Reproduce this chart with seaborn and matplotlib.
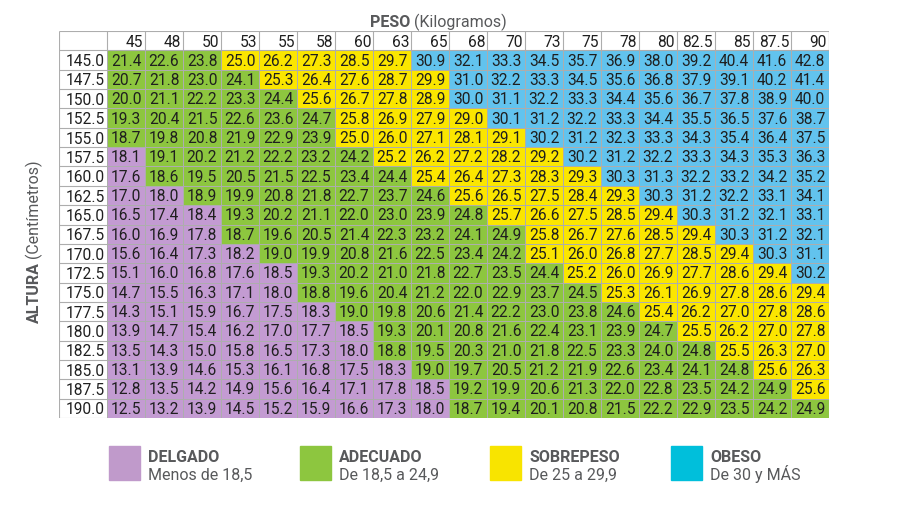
import numpy as np
import pandas as pd
import matplotlib
matplotlib.use("Agg")
import matplotlib.pyplot as plt
import seaborn as sns
from matplotlib.colors import ListedColormap, BoundaryNorm
from matplotlib.patches import Rectangle

pesos = ["45", "48", "50", "53", "55", "58", "60", "63", "65", "68",
         "70", "73", "75", "78", "80", "82.5", "85", "87.5", "90"]
alturas = ["145.0", "147.5", "150.0", "152.5", "155.0", "157.5", "160.0",
           "162.5", "165.0", "167.5", "170.0", "172.5", "175.0", "177.5",
           "180.0", "182.5", "185.0", "187.5", "190.0"]

imc = [
    [21.4, 22.6, 23.8, 25.0, 26.2, 27.3, 28.5, 29.7, 30.9, 32.1, 33.3, 34.5, 35.7, 36.9, 38.0, 39.2, 40.4, 41.6, 42.8],
    [20.7, 21.8, 23.0, 24.1, 25.3, 26.4, 27.6, 28.7, 29.9, 31.0, 32.2, 33.3, 34.5, 35.6, 36.8, 37.9, 39.1, 40.2, 41.4],
    [20.0, 21.1, 22.2, 23.3, 24.4, 25.6, 26.7, 27.8, 28.9, 30.0, 31.1, 32.2, 33.3, 34.4, 35.6, 36.7, 37.8, 38.9, 40.0],
    [19.3, 20.4, 21.5, 22.6, 23.6, 24.7, 25.8, 26.9, 27.9, 29.0, 30.1, 31.2, 32.2, 33.3, 34.4, 35.5, 36.5, 37.6, 38.7],
    [18.7, 19.8, 20.8, 21.9, 22.9, 23.9, 25.0, 26.0, 27.1, 28.1, 29.1, 30.2, 31.2, 32.3, 33.3, 34.3, 35.4, 36.4, 37.5],
    [18.1, 19.1, 20.2, 21.2, 22.2, 23.2, 24.2, 25.2, 26.2, 27.2, 28.2, 29.2, 30.2, 31.2, 32.2, 33.3, 34.3, 35.3, 36.3],
    [17.6, 18.6, 19.5, 20.5, 21.5, 22.5, 23.4, 24.4, 25.4, 26.4, 27.3, 28.3, 29.3, 30.3, 31.3, 32.2, 33.2, 34.2, 35.2],
    [17.0, 18.0, 18.9, 19.9, 20.8, 21.8, 22.7, 23.7, 24.6, 25.6, 26.5, 27.5, 28.4, 29.3, 30.3, 31.2, 32.2, 33.1, 34.1],
    [16.5, 17.4, 18.4, 19.3, 20.2, 21.1, 22.0, 23.0, 23.9, 24.8, 25.7, 26.6, 27.5, 28.5, 29.4, 30.3, 31.2, 32.1, 33.1],
    [16.0, 16.9, 17.8, 18.7, 19.6, 20.5, 21.4, 22.3, 23.2, 24.1, 24.9, 25.8, 26.7, 27.6, 28.5, 29.4, 30.3, 31.2, 32.1],
    [15.6, 16.4, 17.3, 18.2, 19.0, 19.9, 20.8, 21.6, 22.5, 23.4, 24.2, 25.1, 26.0, 26.8, 27.7, 28.5, 29.4, 30.3, 31.1],
    [15.1, 16.0, 16.8, 17.6, 18.5, 19.3, 20.2, 21.0, 21.8, 22.7, 23.5, 24.4, 25.2, 26.0, 26.9, 27.7, 28.6, 29.4, 30.2],
    [14.7, 15.5, 16.3, 17.1, 18.0, 18.8, 19.6, 20.4, 21.2, 22.0, 22.9, 23.7, 24.5, 25.3, 26.1, 26.9, 27.8, 28.6, 29.4],
    [14.3, 15.1, 15.9, 16.7, 17.5, 18.3, 19.0, 19.8, 20.6, 21.4, 22.2, 23.0, 23.8, 24.6, 25.4, 26.2, 27.0, 27.8, 28.6],
    [13.9, 14.7, 15.4, 16.2, 17.0, 17.7, 18.5, 19.3, 20.1, 20.8, 21.6, 22.4, 23.1, 23.9, 24.7, 25.5, 26.2, 27.0, 27.8],
    [13.5, 14.3, 15.0, 15.8, 16.5, 17.3, 18.0, 18.8, 19.5, 20.3, 21.0, 21.8, 22.5, 23.3, 24.0, 24.8, 25.5, 26.3, 27.0],
    [13.1, 13.9, 14.6, 15.3, 16.1, 16.8, 17.5, 18.3, 19.0, 19.7, 20.5, 21.2, 21.9, 22.6, 23.4, 24.1, 24.8, 25.6, 26.3],
    [12.8, 13.5, 14.2, 14.9, 15.6, 16.4, 17.1, 17.8, 18.5, 19.2, 19.9, 20.6, 21.3, 22.0, 22.8, 23.5, 24.2, 24.9, 25.6],
    [12.5, 13.2, 13.9, 14.5, 15.2, 15.9, 16.6, 17.3, 18.0, 18.7, 19.4, 20.1, 20.8, 21.5, 22.2, 22.9, 23.5, 24.2, 24.9],
]

categorias = ["DELGADO", "ADECUADO", "SOBREPESO", "OBESO"]
rangos = ["Menos de 18,5", "De 18,5 a 24,9", "De 25 a 29,9", "De 30 y MÁS"]
limites = [0, 18.55, 24.95, 29.95, 100]
colores_celda = ["#c39bd2", "#8dc63f", "#fbe600", "#62c3ee"]
colores_leyenda = ["#c09acb", "#8dc63f", "#f8e400", "#00bfdb"]

sns.set_style("white")
plt.rcParams["font.family"] = ["Roboto", "DejaVu Sans"]

W, H = 900, 510
def fx(px):
    return px / W
def fy(py):
    return 1 - py / H

df = pd.DataFrame(imc, index=alturas, columns=pesos)

fig = plt.figure(figsize=(9, 5.1), dpi=100)
ax = fig.add_axes([fx(59), fy(419), fx(829) - fx(59), fy(32) - fy(419)])

tinta = "#1f1f1f"
tam = 11.2
cmap = ListedColormap(colores_celda)
norm = BoundaryNorm(limites, cmap.N)
sns.heatmap(df, ax=ax, cmap=cmap, norm=norm, annot=True, fmt=".1f",
            annot_kws={"size": tam, "color": tinta},
            cbar=False, linewidths=0.6, linecolor="#adadad",
            xticklabels=False, yticklabels=False)

lab_w = 48 / 38.0
nr, nc = df.shape
ax.set_xlim(-lab_w, nc)
ax.set_ylim(nr, -1)
for s in ax.spines.values():
    s.set_visible(False)
ax.set_xticks([])
ax.set_yticks([])

grid = "#adadad"
ax.vlines(np.arange(0, nc + 1), -1, 0, color=grid, lw=0.8)
ax.vlines(-lab_w, -1, nr, color=grid, lw=0.8)
ax.hlines(np.arange(0, nr + 1), -lab_w, 0, color=grid, lw=0.8)
ax.hlines(-1, -lab_w, nc, color=grid, lw=0.8)
ax.hlines(0, 0, nc, color=grid, lw=0.8)
ax.vlines(nc, -1, nr, color=grid, lw=0.8)

for j, p in enumerate(pesos):
    ax.text(j + 0.95, -0.47, p, ha="right", va="center", size=tam, color=tinta)
for i, a in enumerate(alturas):
    ax.text(-0.05, i + 0.53, a, ha="right", va="center", size=tam, color=tinta)

gris = "#58595b"
fig.text(fx(410), fy(27), "PESO", ha="right", va="baseline", size=11.5,
         weight="bold", color=gris)
fig.text(fx(414), fy(27), "(Kilogramos)", ha="left", va="baseline", size=11.5,
         color=gris)
fig.text(fx(42), fy(262), "ALTURA", rotation=90, ha="right", va="top",
         size=11.5, weight="bold", color=gris)
fig.text(fx(42), fy(258), "(Centímetros)", rotation=90, ha="right", va="bottom",
         size=11.5, color=gris)

cuadros_x = [109, 300, 490, 671]
for x0, cat, rng, col in zip(cuadros_x, categorias, rangos, colores_leyenda):
    fig.patches.append(Rectangle((fx(x0), fy(481)), fx(31), 34 / H,
                                 transform=fig.transFigure, color=col))
    fig.text(fx(x0 + 39), fy(462), cat, ha="left", va="baseline", size=11.5,
             weight="bold", color=gris)
    fig.text(fx(x0 + 39), fy(480), rng, ha="left", va="baseline", size=11.5,
             color=gris)

fig.savefig("out.png", dpi=100)
